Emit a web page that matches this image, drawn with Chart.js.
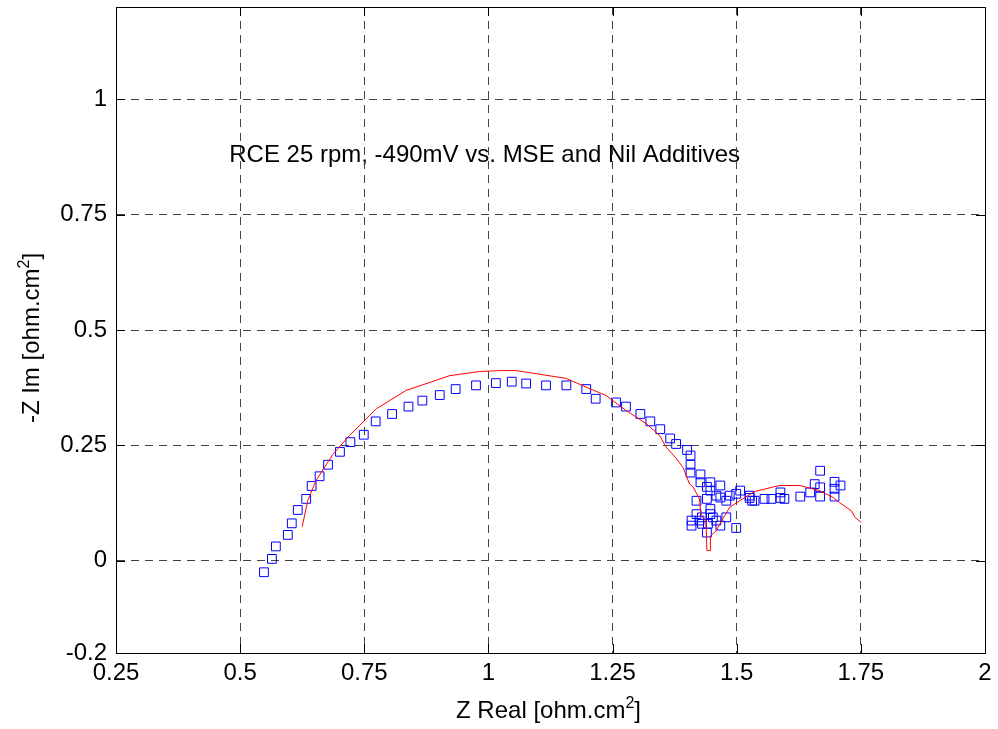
<!DOCTYPE html>
<html>
<head>
<meta charset="utf-8">
<script src="https://cdn.jsdelivr.net/npm/chart.js@4.4.0/dist/chart.umd.min.js"></script>
<style>
  html, body { margin: 0; padding: 0; background: #fff; }
  canvas { display: block; }
</style>
</head>
<body>
<canvas id="chart" width="998" height="729"></canvas>
<script>
// measured impedance points (blue squares)
const measuredX = [0.548, 0.564, 0.572, 0.596, 0.604, 0.616, 0.633, 0.644, 0.660, 0.677,
  0.701, 0.722, 0.749, 0.773, 0.806, 0.839, 0.867, 0.902, 0.934, 0.975,
  1.015, 1.047, 1.076, 1.116, 1.157, 1.197, 1.216, 1.257, 1.277, 1.306,
  1.326, 1.346, 1.366, 1.378, 1.400, 1.407, 1.407, 1.407, 1.427, 1.427,
  1.447, 1.467, 1.447, 1.440, 1.419, 1.440, 1.459, 1.467, 1.479, 1.486,
  1.499, 1.507, 1.526, 1.526, 1.531, 1.536, 1.556, 1.570, 1.588, 1.588,
  1.596, 1.628, 1.648, 1.657, 1.668, 1.668, 1.668, 1.697, 1.697, 1.697,
  1.709, 1.419, 1.447, 1.447, 1.409, 1.409, 1.425, 1.430, 1.442, 1.459,
  1.479, 1.440, 1.467, 1.499, 1.430, 1.452];
const measuredY = [-0.025, 0.004, 0.031, 0.056, 0.081, 0.110, 0.134, 0.162, 0.183, 0.208,
  0.236, 0.257, 0.273, 0.302, 0.318, 0.334, 0.347, 0.359, 0.372, 0.380,
  0.385, 0.388, 0.384, 0.380, 0.380, 0.372, 0.351, 0.343, 0.334, 0.318,
  0.302, 0.285, 0.265, 0.253, 0.240, 0.228, 0.208, 0.191, 0.187, 0.170,
  0.170, 0.163, 0.152, 0.160, 0.130, 0.134, 0.141, 0.137, 0.130, 0.141,
  0.145, 0.152, 0.141, 0.136, 0.130, 0.130, 0.134, 0.134, 0.148, 0.136,
  0.134, 0.139, 0.148, 0.166, 0.195, 0.159, 0.139, 0.171, 0.156, 0.139,
  0.163, 0.101, 0.112, 0.101, 0.087, 0.076, 0.087, 0.080, 0.080, 0.087,
  0.094, 0.061, 0.076, 0.071, 0.094, 0.094];

// fitted model curve (red line)
const fitX = [0.625, 0.636, 0.653, 0.687, 0.720, 0.774, 0.834, 0.922, 0.982, 1.022,
  1.056, 1.157, 1.197, 1.237, 1.278, 1.318, 1.345, 1.358, 1.378, 1.392,
  1.405, 1.412, 1.425, 1.428, 1.438, 1.440, 1.447, 1.447, 1.459, 1.466,
  1.486, 1.506, 1.536, 1.586, 1.627, 1.667, 1.694, 1.707, 1.731, 1.738, 1.751];
const fitY = [0.074, 0.130, 0.174, 0.231, 0.271, 0.329, 0.369, 0.401, 0.410, 0.412,
  0.412, 0.395, 0.376, 0.358, 0.325, 0.297, 0.271, 0.246, 0.222, 0.202,
  0.166, 0.160, 0.134, 0.098, 0.087, 0.022, 0.022, 0.054, 0.065, 0.080,
  0.116, 0.130, 0.150, 0.163, 0.163, 0.152, 0.137, 0.126, 0.108, 0.094, 0.083];

const xTicks = [0.25, 0.5, 0.75, 1, 1.25, 1.5, 1.75, 2];
const xTickLabels = ['0.25', '0.5', '0.75', '1', '1.25', '1.5', '1.75', '2'];
const yTicks = [-0.2, 0, 0.25, 0.5, 0.75, 1];
const yTickLabels = ['-0.2', '0', '0.25', '0.5', '0.75', '1'];

const noteText = 'RCE 25 rpm, -490mV vs. MSE and Nil Additives';
const noteX = 0.478;
const noteY = 0.864;

const FONT = "'Liberation Sans', Arial, sans-serif";

// draw "text [unit^2]" with a raised small 2
function drawSupLabel(ctx, before, sup, after, size) {
  ctx.font = size + 'px ' + FONT;
  const w1 = ctx.measureText(before).width;
  const w3 = ctx.measureText(after).width;
  ctx.font = Math.round(size * 0.68) + 'px ' + FONT;
  const w2 = ctx.measureText(sup).width;
  let x = -(w1 + w2 + w3) / 2;
  ctx.font = size + 'px ' + FONT;
  ctx.fillText(before, x, 0);
  x += w1;
  ctx.font = Math.round(size * 0.68) + 'px ' + FONT;
  ctx.fillText(sup, x, -size * 0.42);
  x += w2;
  ctx.font = size + 'px ' + FONT;
  ctx.fillText(after, x, 0);
}

const decor = {
  id: 'decor',
  beforeDraw(chart) {
    // annotation text sits under the grid lines
    const ctx = chart.ctx;
    const xs = chart.scales.x, ys = chart.scales.y;
    ctx.save();
    ctx.fillStyle = '#000';
    ctx.font = '24px ' + FONT;
    ctx.textAlign = 'left';
    ctx.textBaseline = 'alphabetic';
    ctx.fillText(noteText, xs.getPixelForValue(noteX), ys.getPixelForValue(noteY));
    ctx.restore();
  },
  afterDraw(chart) {
    const ctx = chart.ctx;
    const a = chart.chartArea;
    const xs = chart.scales.x, ys = chart.scales.y;
    ctx.save();
    ctx.strokeStyle = '#000';
    ctx.lineWidth = 1;
    // box
    ctx.strokeRect(Math.round(a.left) + 0.5, Math.round(a.top) + 0.5,
      Math.round(a.right - a.left), Math.round(a.bottom - a.top));
    // inward tick marks on all four sides
    const len = 9;
    ctx.beginPath();
    xTicks.forEach(v => {
      const px = Math.round(xs.getPixelForValue(v)) + 0.5;
      ctx.moveTo(px, a.bottom); ctx.lineTo(px, a.bottom - len);
      ctx.moveTo(px, a.top); ctx.lineTo(px, a.top + len);
    });
    yTicks.forEach(v => {
      const py = Math.round(ys.getPixelForValue(v)) + 0.5;
      ctx.moveTo(a.left, py); ctx.lineTo(a.left + len, py);
      ctx.moveTo(a.right, py); ctx.lineTo(a.right - len, py);
    });
    ctx.stroke();

    // axis titles
    ctx.fillStyle = '#000';
    ctx.textAlign = 'left';
    ctx.textBaseline = 'alphabetic';
    ctx.save();
    ctx.translate((a.left + a.right) / 2 - 2, 718);
    drawSupLabel(ctx, 'Z Real [ohm.cm', '2', ']', 24);
    ctx.restore();
    ctx.save();
    ctx.translate(39, 338);
    ctx.rotate(-Math.PI / 2);
    drawSupLabel(ctx, '-Z Im [ohm.cm', '2', ']', 24);
    ctx.restore();
    ctx.restore();
  }
};

const tickFont = { family: FONT, size: 24 };

new Chart(document.getElementById('chart'), {
  type: 'scatter',
  data: {
    datasets: [
      {
        label: 'fit',
        data: fitX.map((x, i) => ({ x: x, y: fitY[i] })),
        showLine: true,
        borderColor: '#ff0000',
        borderWidth: 1,
        pointRadius: 0,
        tension: 0,
        fill: false
      },
      {
        label: 'measured',
        data: measuredX.map((x, i) => ({ x: x, y: measuredY[i] })),
        pointStyle: 'rect',
        pointRadius: 6.2,
        pointBorderColor: '#0000ff',
        pointBackgroundColor: 'rgba(0,0,0,0)',
        pointBorderWidth: 1,
        showLine: false
      }
    ]
  },
  options: {
    responsive: false,
    animation: false,
    layout: { autoPadding: false, padding: { top: 7, right: 13, left: 0, bottom: 0 } },
    plugins: {
      legend: { display: false },
      tooltip: { enabled: false }
    },
    scales: {
      x: {
        type: 'linear',
        min: 0.25,
        max: 2,
        afterBuildTicks: s => { s.ticks = xTicks.map(v => ({ value: v })); },
        afterFit: s => { s.height = 76; s.paddingLeft = 0; s.paddingRight = 0; },
        ticks: {
          callback: (v, i) => xTickLabels[i],
          font: tickFont,
          color: '#000',
          padding: 6,
          maxRotation: 0,
          autoSkip: false
        },
        grid: { color: '#444', lineWidth: 1, drawTicks: false },
        border: { display: true, color: '#000', width: 1, dash: [8, 6] }
      },
      y: {
        type: 'linear',
        min: -0.2,
        max: 1.2,
        afterBuildTicks: s => { s.ticks = yTicks.map(v => ({ value: v })); },
        afterFit: s => { s.width = 116; s.paddingTop = 0; s.paddingBottom = 0; },
        ticks: {
          callback: (v, i) => yTickLabels[i],
          font: tickFont,
          color: '#000',
          padding: 9,
          autoSkip: false
        },
        grid: { color: '#444', lineWidth: 1, drawTicks: false },
        border: { display: true, color: '#000', width: 1, dash: [8, 6] }
      }
    }
  },
  plugins: [decor]
});
</script>
</body>
</html>
